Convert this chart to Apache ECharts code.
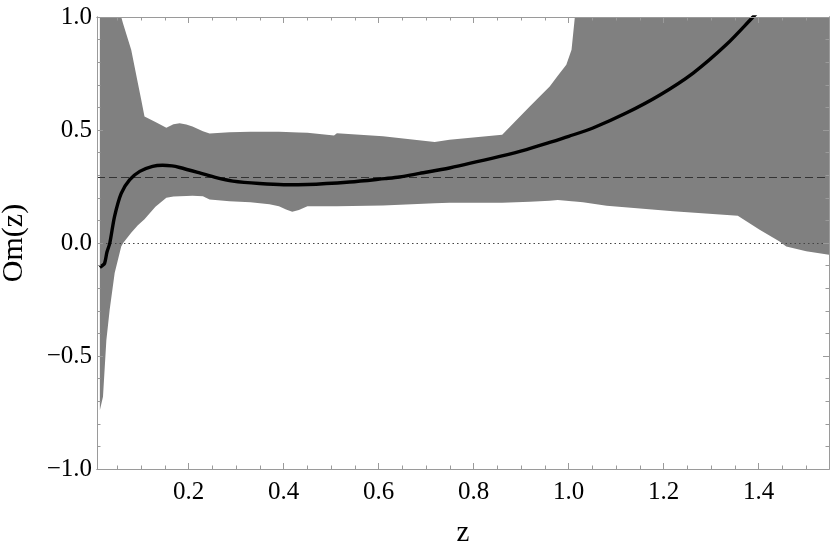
<!DOCTYPE html>
<html>
<head>
<meta charset="utf-8">
<script src="https://cdn.jsdelivr.net/npm/echarts@6/dist/echarts.min.js"></script>
<style>
  html, body { margin: 0; padding: 0; background: #fff; }
  #chart { width: 830px; height: 545px; }
</style>
</head>
<body>
<div id="chart"></div>
<script>
// band (gray) : lower / upper edge
const bandZ = [0.013, 0.0196, 0.0267, 0.0337, 0.0442, 0.058, 0.062, 0.079, 0.093, 0.1, 0.107, 0.13, 0.153, 0.168, 0.181, 0.195, 0.208, 0.23, 0.244, 0.286, 0.33, 0.37, 0.39, 0.405, 0.418, 0.432, 0.45, 0.506, 0.512, 0.609, 0.718, 0.749, 0.86, 0.918, 0.96, 0.977, 0.995, 1.006, 1.013, 1.03, 1.08, 1.22, 1.356, 1.402, 1.444, 1.458, 1.5, 1.548]
const bandLow = [-0.74, -0.68, -0.43, -0.295, -0.133, -0.015, 0.0, 0.045, 0.078, 0.092, 0.105, 0.16, 0.2, 0.206, 0.207, 0.208, 0.209, 0.207, 0.193, 0.185, 0.18, 0.172, 0.163, 0.148, 0.138, 0.146, 0.163, 0.163, 0.163, 0.166, 0.176, 0.178, 0.178, 0.183, 0.187, 0.19, 0.187, 0.185, 0.184, 0.18, 0.165, 0.14, 0.121, 0.059, 0.007, -0.015, -0.036, -0.052]
const bandHigh = [1.45, 1.38, 1.29, 1.21, 1.1, 1.0, 0.97, 0.855, 0.708, 0.635, 0.56, 0.535, 0.51, 0.525, 0.53, 0.524, 0.516, 0.495, 0.484, 0.49, 0.492, 0.492, 0.492, 0.491, 0.49, 0.489, 0.488, 0.476, 0.486, 0.472, 0.447, 0.457, 0.479, 0.604, 0.693, 0.74, 0.789, 0.855, 1.0, 1.4, 1.6, 1.8, 2.0, 2.0, 2.0, 2.0, 2.0, 2.0]

// black curve
const curveZ = [0.013, 0.018, 0.023, 0.028, 0.034, 0.044, 0.058, 0.076, 0.097, 0.124, 0.145, 0.165, 0.181, 0.223, 0.258, 0.293, 0.349, 0.4, 0.45, 0.539, 0.613, 0.644, 0.686, 0.749, 0.855, 0.911, 0.96, 1.0, 1.051, 1.121, 1.192, 1.262, 1.332, 1.388, 1.42]
const curveOm = [-0.108, -0.1, -0.09, -0.04, 0.0, 0.118, 0.22, 0.28, 0.317, 0.339, 0.344, 0.341, 0.334, 0.31, 0.289, 0.274, 0.263, 0.258, 0.259, 0.27, 0.285, 0.292, 0.308, 0.332, 0.383, 0.413, 0.445, 0.472, 0.509, 0.575, 0.655, 0.752, 0.878, 1.0, 1.07]

const dashedLevel = 0.288
const dottedLevel = 0

const xMajor = [0.2, 0.4, 0.6, 0.8, 1.0, 1.2, 1.4]
const xMinor = [0.05, 0.1, 0.15, 0.25, 0.3, 0.35, 0.45, 0.5, 0.55, 0.65, 0.7, 0.75, 0.85, 0.9, 0.95, 1.05, 1.1, 1.15, 1.25, 1.3, 1.35, 1.45, 1.5]
const yMajor = [-1.0, -0.5, 0.0, 0.5, 1.0]
const yMinor = [-0.9, -0.8, -0.7, -0.6, -0.4, -0.3, -0.2, -0.1, 0.1, 0.2, 0.3, 0.4, 0.6, 0.7, 0.8, 0.9]

const X_MIN = 0.007
const X_MAX = 1.548
const FRAME = '#9a9a9a'
const FONT = '"Liberation Serif", "DejaVu Serif", serif'

const fmt = (v) => (v < 0 ? '\u2212' : '') + Math.abs(v).toFixed(1)

function xAx(pos, ticks, len, withLabel) {
  return {
    type: 'value',
    position: pos,
    min: X_MIN,
    max: X_MAX,
    z: 20,
    axisLine: { show: true, onZero: false, lineStyle: { color: FRAME, width: 1 } },
    axisTick: { show: true, inside: true, length: len, customValues: ticks, lineStyle: { color: FRAME } },
    axisLabel: withLabel
      ? { show: true, customValues: ticks, formatter: fmt, color: '#000', fontFamily: FONT, fontSize: 25, margin: 11 }
      : { show: false },
    splitLine: { show: false }
  }
}

function yAx(pos, ticks, len, withLabel) {
  return {
    type: 'value',
    position: pos,
    min: -1,
    max: 1,
    z: 20,
    axisLine: { show: true, onZero: false, lineStyle: { color: FRAME, width: 1 } },
    axisTick: { show: true, inside: true, length: len, customValues: ticks, lineStyle: { color: FRAME } },
    axisLabel: withLabel
      ? { show: true, customValues: ticks, formatter: fmt, color: '#000', fontFamily: FONT, fontSize: 25, margin: 5 }
      : { show: false },
    splitLine: { show: false }
  }
}

const chart = echarts.init(document.getElementById('chart'), null, { renderer: 'canvas' })

const xAxes = [
  xAx('bottom', xMajor, 6, true),
  xAx('bottom', xMinor, 3.5, false),
  xAx('top', xMajor, 6, false),
  xAx('top', xMinor, 3.5, false)
]
xAxes[0].name = 'z'
xAxes[0].nameLocation = 'middle'
xAxes[0].nameGap = 50
xAxes[0].nameTextStyle = { color: '#000', fontFamily: FONT, fontSize: 29 }

const yAxes = [
  yAx('left', yMajor, 6, true),
  yAx('left', yMinor, 3.5, false),
  yAx('right', yMajor, 6, false),
  yAx('right', yMinor, 3.5, false)
]
yAxes[0].name = 'Om(z)'
yAxes[0].nameLocation = 'middle'
yAxes[0].nameGap = 68
yAxes[0].nameTextStyle = { color: '#000', fontFamily: FONT, fontSize: 30 }

chart.setOption({
  animation: false,
  backgroundColor: '#fff',
  grid: { left: 97, right: 1, top: 17, bottom: 76, containLabel: false, outerBoundsMode: 'none' },
  xAxis: xAxes,
  yAxis: yAxes,
  series: [
    {
      name: 'band',
      type: 'custom',
      silent: true,
      clip: true,
      data: bandZ.map((z, i) => [z, bandLow[i], bandHigh[i]]),
      encode: { x: 0, y: [1, 2] },
      renderItem: function (params, api) {
        if (params.dataIndex !== 0) return null
        const n = params.dataInsideLength
        const top = []
        const bot = []
        for (let j = 0; j < n; j++) {
          top.push(api.coord([api.value(0, j), api.value(2, j)]))
          bot.push(api.coord([api.value(0, j), api.value(1, j)]))
        }
        return {
          type: 'polygon',
          shape: { points: top.concat(bot.reverse()) },
          style: { fill: '#808080', stroke: null }
        }
      },
      z: 1
    },
    {
      name: 'refs',
      type: 'line',
      data: [],
      silent: true,
      markLine: {
        silent: true,
        symbol: 'none',
        label: { show: false },
        data: [
          { yAxis: dashedLevel, lineStyle: { color: '#333', width: 1, type: [8, 4] } },
          { yAxis: dottedLevel, lineStyle: { color: '#444', width: 1.2, type: [1.5, 3] } }
        ]
      },
      z: 3
    },
    {
      name: 'Om',
      type: 'line',
      symbol: 'none',
      smooth: 0.3,
      lineStyle: { color: '#000', width: 3.4 },
      data: curveZ.map((z, i) => [z, curveOm[i]]),
      z: 10
    }
  ]
})
</script>
</body>
</html>
